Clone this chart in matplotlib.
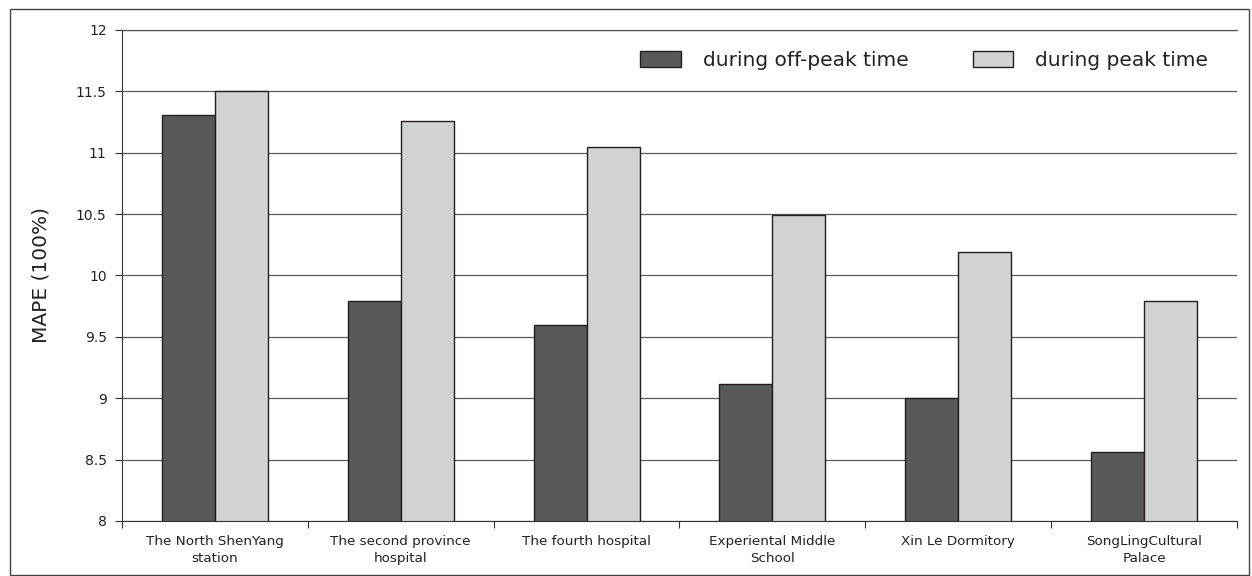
#!/usr/bin/env python3
"""MAPE por estação: fora do pico vs. horário de pico (barras agrupadas)."""
import matplotlib
matplotlib.use("Agg")
import matplotlib.pyplot as plt
import numpy as np
from matplotlib.patches import Rectangle

stations = [
    "The North ShenYang\nstation",
    "The second province\nhospital",
    "The fourth hospital",
    "Experiental Middle\nSchool",
    "Xin Le Dormitory",
    "SongLingCultural\nPalace",
]
off_peak = [11.31, 9.79, 9.60, 9.12, 9.00, 8.56]
peak = [11.50, 11.26, 11.05, 10.49, 10.19, 9.79]
series_names = ["during off-peak time", "during peak time"]
yticks = [8, 8.5, 9, 9.5, 10, 10.5, 11, 11.5, 12]

DARK = "#58595b"
LIGHT = "#d1d2d4"
EDGE = "#231f20"
GRID = "#5a5a5a"

fig = plt.figure(figsize=(12.52, 5.76), dpi=100)
ax = fig.add_axes([0.0974, 0.0955, 0.8906, 0.8525])

x = np.arange(len(stations))
w = 0.285
ax.bar(x - w / 2, off_peak, width=w, color=DARK, edgecolor=EDGE, linewidth=1.0,
       label=series_names[0])
ax.bar(x + w / 2, peak, width=w, color=LIGHT, edgecolor=EDGE, linewidth=1.0,
       label=series_names[1])

ax.set_ylim(8, 12)
ax.set_xlim(-0.5, len(stations) - 0.5)
ax.set_yticks(yticks)
ax.set_yticklabels([f"{v:g}" for v in yticks], fontsize=10, color="#222222")
ax.yaxis.grid(True, color=GRID, linewidth=0.9)
ax.set_axisbelow(True)

# ticks nas fronteiras, rótulos no centro
ax.set_xticks(np.arange(-0.5, len(stations), 1.0))
ax.set_xticklabels([])
ax.set_xticks(x, minor=True)
ax.set_xticklabels(stations, minor=True, fontsize=9.7, color="#222222",
                   linespacing=1.45)
ax.tick_params(axis="x", which="minor", length=0, pad=10)
ax.tick_params(axis="x", which="major", length=5, color="#333333")
ax.tick_params(axis="y", length=5, color="#333333", pad=6)

ax.set_ylabel("MAPE (100%)", fontsize=14.5, color="#222222", labelpad=18)

ax.spines["right"].set_visible(False)
ax.spines["top"].set_color(GRID)
ax.spines["top"].set_linewidth(0.9)
ax.spines["left"].set_color("#333333")
ax.spines["bottom"].set_color("#333333")

fig.legend(loc="center left", bbox_to_anchor=(0.497, 0.895), ncol=2, frameon=False,
           fontsize=14.5, handlelength=2.0, handleheight=0.8, handletextpad=1.1,
           columnspacing=3.2, labelcolor="#222222")

# moldura externa
fig.patches.append(Rectangle((10 / 1252, 1 / 576), 1239 / 1252, 566 / 576,
                             transform=fig.transFigure, fill=False,
                             edgecolor="#444444", linewidth=1.0))

fig.savefig("out.png", dpi=100)
plt.close(fig)
